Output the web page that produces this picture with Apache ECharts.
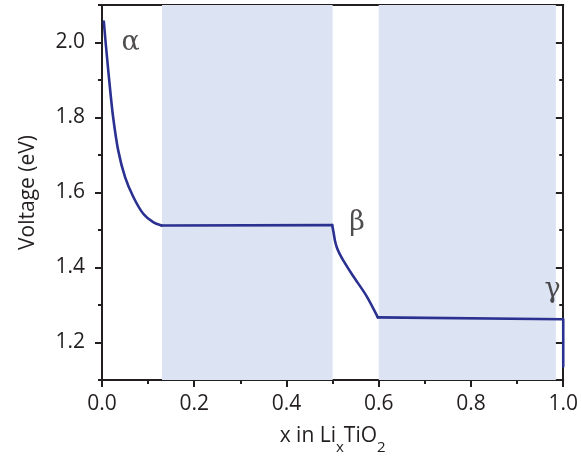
<!DOCTYPE html>
<html>
<head>
<meta charset="utf-8">
<script src="https://cdn.jsdelivr.net/npm/echarts@6/dist/echarts.min.js"></script>
<style>
  html, body { margin: 0; padding: 0; background: #fff; }
  #chart { width: 581px; height: 462px; }
</style>
</head>
<body>
<div id="chart"></div>
<script>
// Discharge voltage profile of LixTiO2
const xValues = [
  0.004, 0.007, 0.010, 0.017, 0.024, 0.035, 0.050, 0.068, 0.089, 0.111, 0.129,
  0.499, 0.502, 0.505, 0.509, 0.515, 0.524, 0.544, 0.573, 0.598,
  1.000, 1.000
];
const voltages = [
  2.056, 2.012, 1.972, 1.882, 1.802, 1.713, 1.641, 1.588, 1.544, 1.521, 1.512,
  1.513, 1.494, 1.472, 1.454, 1.437, 1.417, 1.378, 1.325, 1.267,
  1.262, 1.136
];

// Two-phase regions (shaded)
const twoPhaseStart = [0.13, 0.60];
const twoPhaseEnd = [0.50, 0.984];

// Phase annotations
const phaseNames = ['α', 'β', 'γ'];
const phaseX = [0.062, 0.553, 0.977];
const phaseV = [2.000, 1.518, 1.340];

// Axis ticks
const xTickLabels = [0.0, 0.2, 0.4, 0.6, 0.8, 1.0];
const yMajorTicks = [1.2, 1.4, 1.6, 1.8, 2.0];
const yMinorTicks = [1.1, 1.3, 1.5, 1.7, 1.9, 2.1];

const ink = '#231f20';
const lineBlue = '#2b3190';
const shade = '#dce3f2';
const font = 'Open Sans';
const labelSize = 21;

const chart = echarts.init(document.getElementById('chart'), null, { renderer: 'canvas' });

const allPoints = xValues.map((x, i) => [x, voltages[i]]);
// curved stretches are smoothed, flat plateaus and the end step are drawn straight
const alphaEnd = xValues.indexOf(0.129);
const betaStart = xValues.indexOf(0.499);
const betaEnd = xValues.indexOf(0.598);
const segments = [
  { data: allPoints.slice(0, alphaEnd + 1), smooth: 0.3 },
  { data: allPoints.slice(alphaEnd, betaStart + 1), smooth: false },
  { data: allPoints.slice(betaStart, betaEnd + 1), smooth: 0.3 },
  { data: allPoints.slice(betaEnd), smooth: false }
];

const areas = twoPhaseStart.map((s, i) => [{ xAxis: s }, { xAxis: twoPhaseEnd[i] }]);
const phaseData = phaseNames.map((n, i) => ({ name: n, value: [phaseX[i], phaseV[i]] }));

function yAxisBase(position, ticks, len, inside, labels) {
  return {
    type: 'value', position: position, min: 1.1, max: 2.1,
    axisLine: { show: true, lineStyle: { color: ink, width: 2 } },
    splitLine: { show: false },
    axisTick: { show: true, customValues: ticks, inside: inside, length: len,
                lineStyle: { color: ink, width: 2 } },
    axisLabel: labels ? {
      show: true, customValues: ticks, margin: 17,
      fontFamily: font, fontSize: labelSize, color: ink,
      formatter: v => v.toFixed(1)
    } : { show: false }
  };
}

const yAxes = [
  Object.assign(yAxisBase('left', yMajorTicks, 7, false, true), {
    name: 'Voltage (eV)', nameLocation: 'middle', nameGap: 63,
    nameTextStyle: { fontFamily: font, fontSize: labelSize, color: ink }
  }),
  yAxisBase('left', yMinorTicks, 4, false, false),
  yAxisBase('right', yMajorTicks, 8, true, false),
  yAxisBase('right', yMinorTicks, 4, true, false)
];

const lineSeries = segments.map(seg => ({
  type: 'line', xAxisIndex: 0, yAxisIndex: 0,
  data: seg.data, smooth: seg.smooth,
  showSymbol: false, symbol: 'none', silent: true,
  lineStyle: { color: lineBlue, width: 2.6, cap: 'round', join: 'round' },
  z: 3
}));
lineSeries[0].markArea = {
  silent: true,
  itemStyle: { color: shade },
  data: areas
};

const option = {
  animation: false,
  backgroundColor: '#fff',
  grid: { left: 102, right: 17, top: 5, bottom: 82, containLabel: false },
  xAxis: [
    {
      type: 'value', position: 'bottom', min: 0, max: 1, interval: 0.2,
      axisLine: { show: true, lineStyle: { color: ink, width: 2 } },
      splitLine: { show: false },
      axisTick: { show: true, length: 7, lineStyle: { color: ink, width: 2 } },
      minorTick: { show: true, splitNumber: 2, length: 4, lineStyle: { color: ink, width: 2 } },
      axisLabel: {
        margin: 14, fontFamily: font, fontSize: labelSize, color: ink,
        customValues: xTickLabels,
        formatter: v => v.toFixed(1)
      },
      name: '{t|x in Li}{s|x}{t|TiO}{s|2}',
      nameLocation: 'middle', nameGap: 46,
      nameTextStyle: {
        rich: {
          t: { fontFamily: font, fontSize: labelSize, color: ink, lineHeight: 24, verticalAlign: 'top' },
          s: { fontFamily: font, fontSize: 15, color: ink, lineHeight: 15, verticalAlign: 'top', padding: [14, 0, 0, 0] }
        }
      }
    },
    {
      type: 'value', position: 'top', min: 0, max: 1,
      axisLine: { show: true, lineStyle: { color: ink, width: 2 } },
      splitLine: { show: false }, axisTick: { show: false }, axisLabel: { show: false }
    }
  ],
  yAxis: yAxes,
  series: lineSeries.concat([
    {
      type: 'scatter', xAxisIndex: 0, yAxisIndex: 0,
      data: phaseData, symbolSize: 0, silent: true,
      label: {
        show: true, position: 'inside',
        formatter: p => p.name,
        fontFamily: 'DejaVu Serif', fontSize: 27, color: ink
      },
      z: 4
    }
  ])
};

chart.setOption(option);
</script>
</body>
</html>
